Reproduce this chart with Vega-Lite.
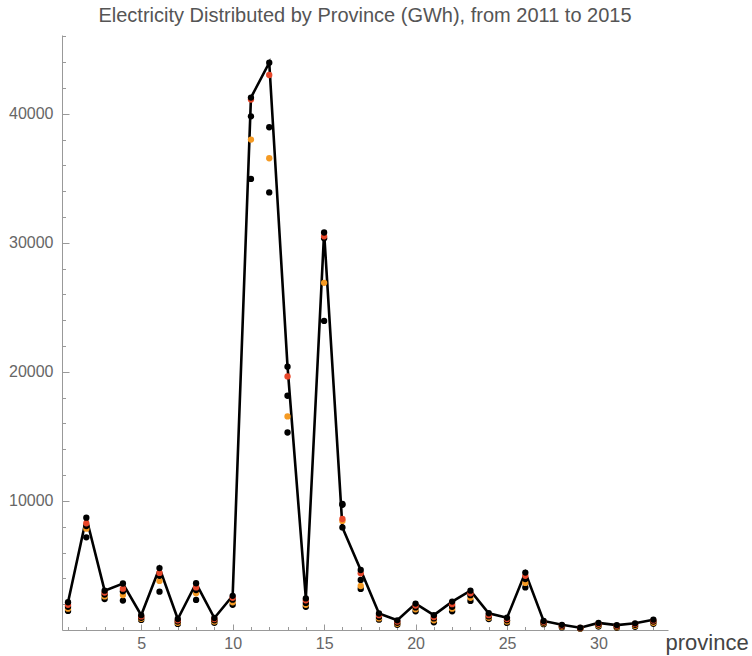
{
  "$schema": "https://vega.github.io/schema/vega-lite/v6.json",
  "width": 606,
  "height": 595,
  "autosize": "none",
  "padding": {"left": 62, "top": 35, "right": 84, "bottom": 26},
  "background": "white",
  "title": {
    "text": "Electricity Distributed by Province (GWh), from 2011 to 2015",
    "font": "Liberation Sans",
    "fontSize": 20,
    "fontWeight": "normal",
    "color": "#555555",
    "anchor": "middle",
    "offset": 9
  },
  "config": {
    "view": {"stroke": null},
    "axis": {
      "grid": false,
      "domainColor": "#999999",
      "domainWidth": 1,
      "tickColor": "#999999",
      "tickWidth": 1,
      "labelFont": "Liberation Sans",
      "labelColor": "#666666",
      "labelFontSize": 16
    }
  },
  "data": {
    "values": [
      {"province": 1, "year": 2011, "gwh": 1480}, {"province": 1, "year": 2012, "gwh": 1650}, {"province": 1, "year": 2013, "gwh": 1800}, {"province": 1, "year": 2014, "gwh": 1950}, {"province": 1, "year": 2015, "gwh": 2150},
      {"province": 2, "year": 2011, "gwh": 7180}, {"province": 2, "year": 2012, "gwh": 7850}, {"province": 2, "year": 2013, "gwh": 8050}, {"province": 2, "year": 2014, "gwh": 8270}, {"province": 2, "year": 2015, "gwh": 8700},
      {"province": 3, "year": 2011, "gwh": 2400}, {"province": 3, "year": 2012, "gwh": 2600}, {"province": 3, "year": 2013, "gwh": 2750}, {"province": 3, "year": 2014, "gwh": 2900}, {"province": 3, "year": 2015, "gwh": 3050},
      {"province": 4, "year": 2011, "gwh": 2280}, {"province": 4, "year": 2012, "gwh": 2710}, {"province": 4, "year": 2013, "gwh": 3000}, {"province": 4, "year": 2014, "gwh": 3200}, {"province": 4, "year": 2015, "gwh": 3600},
      {"province": 5, "year": 2011, "gwh": 780}, {"province": 5, "year": 2012, "gwh": 870}, {"province": 5, "year": 2013, "gwh": 950}, {"province": 5, "year": 2014, "gwh": 1050}, {"province": 5, "year": 2015, "gwh": 1150},
      {"province": 6, "year": 2011, "gwh": 2970}, {"province": 6, "year": 2012, "gwh": 3800}, {"province": 6, "year": 2013, "gwh": 4200}, {"province": 6, "year": 2014, "gwh": 4420}, {"province": 6, "year": 2015, "gwh": 4800},
      {"province": 7, "year": 2011, "gwh": 470}, {"province": 7, "year": 2012, "gwh": 560}, {"province": 7, "year": 2013, "gwh": 650}, {"province": 7, "year": 2014, "gwh": 750}, {"province": 7, "year": 2015, "gwh": 850},
      {"province": 8, "year": 2011, "gwh": 2330}, {"province": 8, "year": 2012, "gwh": 2840}, {"province": 8, "year": 2013, "gwh": 3100}, {"province": 8, "year": 2014, "gwh": 3300}, {"province": 8, "year": 2015, "gwh": 3620},
      {"province": 9, "year": 2011, "gwh": 560}, {"province": 9, "year": 2012, "gwh": 650}, {"province": 9, "year": 2013, "gwh": 750}, {"province": 9, "year": 2014, "gwh": 850}, {"province": 9, "year": 2015, "gwh": 930},
      {"province": 10, "year": 2011, "gwh": 1950}, {"province": 10, "year": 2012, "gwh": 2150}, {"province": 10, "year": 2013, "gwh": 2350}, {"province": 10, "year": 2014, "gwh": 2500}, {"province": 10, "year": 2015, "gwh": 2650},
      {"province": 11, "year": 2011, "gwh": 34950}, {"province": 11, "year": 2012, "gwh": 38000}, {"province": 11, "year": 2013, "gwh": 39800}, {"province": 11, "year": 2014, "gwh": 41100}, {"province": 11, "year": 2015, "gwh": 41250},
      {"province": 12, "year": 2011, "gwh": 33900}, {"province": 12, "year": 2012, "gwh": 36550}, {"province": 12, "year": 2013, "gwh": 38950}, {"province": 12, "year": 2014, "gwh": 43000}, {"province": 12, "year": 2015, "gwh": 43950},
      {"province": 13, "year": 2011, "gwh": 15300}, {"province": 13, "year": 2012, "gwh": 16550}, {"province": 13, "year": 2013, "gwh": 18150}, {"province": 13, "year": 2014, "gwh": 19650}, {"province": 13, "year": 2015, "gwh": 20400},
      {"province": 14, "year": 2011, "gwh": 1800}, {"province": 14, "year": 2012, "gwh": 1950}, {"province": 14, "year": 2013, "gwh": 2100}, {"province": 14, "year": 2014, "gwh": 2300}, {"province": 14, "year": 2015, "gwh": 2450},
      {"province": 15, "year": 2011, "gwh": 23950}, {"province": 15, "year": 2012, "gwh": 26900}, {"province": 15, "year": 2013, "gwh": 30350}, {"province": 15, "year": 2014, "gwh": 30500}, {"province": 15, "year": 2015, "gwh": 30800},
      {"province": 16, "year": 2011, "gwh": 9700}, {"province": 16, "year": 2012, "gwh": 8450}, {"province": 16, "year": 2013, "gwh": 9760}, {"province": 16, "year": 2014, "gwh": 8600}, {"province": 16, "year": 2015, "gwh": 7950},
      {"province": 17, "year": 2011, "gwh": 3180}, {"province": 17, "year": 2012, "gwh": 3410}, {"province": 17, "year": 2013, "gwh": 3880}, {"province": 17, "year": 2014, "gwh": 4390}, {"province": 17, "year": 2015, "gwh": 4650},
      {"province": 18, "year": 2011, "gwh": 800}, {"province": 18, "year": 2012, "gwh": 900}, {"province": 18, "year": 2013, "gwh": 1000}, {"province": 18, "year": 2014, "gwh": 1150}, {"province": 18, "year": 2015, "gwh": 1280},
      {"province": 19, "year": 2011, "gwh": 400}, {"province": 19, "year": 2012, "gwh": 480}, {"province": 19, "year": 2013, "gwh": 560}, {"province": 19, "year": 2014, "gwh": 650}, {"province": 19, "year": 2015, "gwh": 750},
      {"province": 20, "year": 2011, "gwh": 1450}, {"province": 20, "year": 2012, "gwh": 1600}, {"province": 20, "year": 2013, "gwh": 1750}, {"province": 20, "year": 2014, "gwh": 1900}, {"province": 20, "year": 2015, "gwh": 2050},
      {"province": 21, "year": 2011, "gwh": 600}, {"province": 21, "year": 2012, "gwh": 750}, {"province": 21, "year": 2013, "gwh": 900}, {"province": 21, "year": 2014, "gwh": 1000}, {"province": 21, "year": 2015, "gwh": 1150},
      {"province": 22, "year": 2011, "gwh": 1450}, {"province": 22, "year": 2012, "gwh": 1650}, {"province": 22, "year": 2013, "gwh": 1800}, {"province": 22, "year": 2014, "gwh": 2000}, {"province": 22, "year": 2015, "gwh": 2200},
      {"province": 23, "year": 2011, "gwh": 2250}, {"province": 23, "year": 2012, "gwh": 2500}, {"province": 23, "year": 2013, "gwh": 2700}, {"province": 23, "year": 2014, "gwh": 2850}, {"province": 23, "year": 2015, "gwh": 3050},
      {"province": 24, "year": 2011, "gwh": 850}, {"province": 24, "year": 2012, "gwh": 950}, {"province": 24, "year": 2013, "gwh": 1050}, {"province": 24, "year": 2014, "gwh": 1150}, {"province": 24, "year": 2015, "gwh": 1300},
      {"province": 25, "year": 2011, "gwh": 550}, {"province": 25, "year": 2012, "gwh": 650}, {"province": 25, "year": 2013, "gwh": 750}, {"province": 25, "year": 2014, "gwh": 850}, {"province": 25, "year": 2015, "gwh": 950},
      {"province": 26, "year": 2011, "gwh": 3300}, {"province": 26, "year": 2012, "gwh": 3650}, {"province": 26, "year": 2013, "gwh": 3950}, {"province": 26, "year": 2014, "gwh": 4200}, {"province": 26, "year": 2015, "gwh": 4450},
      {"province": 27, "year": 2011, "gwh": 450}, {"province": 27, "year": 2012, "gwh": 520}, {"province": 27, "year": 2013, "gwh": 580}, {"province": 27, "year": 2014, "gwh": 640}, {"province": 27, "year": 2015, "gwh": 700},
      {"province": 28, "year": 2011, "gwh": 200}, {"province": 28, "year": 2012, "gwh": 250}, {"province": 28, "year": 2013, "gwh": 300}, {"province": 28, "year": 2014, "gwh": 350}, {"province": 28, "year": 2015, "gwh": 400},
      {"province": 29, "year": 2011, "gwh": 100}, {"province": 29, "year": 2012, "gwh": 120}, {"province": 29, "year": 2013, "gwh": 140}, {"province": 29, "year": 2014, "gwh": 160}, {"province": 29, "year": 2015, "gwh": 180},
      {"province": 30, "year": 2011, "gwh": 280}, {"province": 30, "year": 2012, "gwh": 350}, {"province": 30, "year": 2013, "gwh": 420}, {"province": 30, "year": 2014, "gwh": 480}, {"province": 30, "year": 2015, "gwh": 550},
      {"province": 31, "year": 2011, "gwh": 170}, {"province": 31, "year": 2012, "gwh": 220}, {"province": 31, "year": 2013, "gwh": 280}, {"province": 31, "year": 2014, "gwh": 330}, {"province": 31, "year": 2015, "gwh": 380},
      {"province": 32, "year": 2011, "gwh": 250}, {"province": 32, "year": 2012, "gwh": 330}, {"province": 32, "year": 2013, "gwh": 400}, {"province": 32, "year": 2014, "gwh": 470}, {"province": 32, "year": 2015, "gwh": 520},
      {"province": 33, "year": 2011, "gwh": 480}, {"province": 33, "year": 2012, "gwh": 560}, {"province": 33, "year": 2013, "gwh": 650}, {"province": 33, "year": 2014, "gwh": 730}, {"province": 33, "year": 2015, "gwh": 800}
    ]
  },
  "layer": [
    {
      "transform": [{"filter": "datum.year === 2015"}],
      "mark": {"type": "line", "color": "black", "strokeWidth": 2.6},
      "encoding": {
        "x": {
          "field": "province",
          "type": "quantitative",
          "scale": {"domain": [0.67, 33.8], "nice": false, "zero": false},
          "axis": {
            "orient": "bottom",
            "values": [5, 10, 15, 20, 25, 30],
            "tickSize": -6,
            "labelPadding": 11,
            "title": "province",
            "titleFont": "Liberation Sans",
            "titleFontSize": 22,
            "titleFontWeight": "normal",
            "titleColor": "#444444",
            "titleAlign": "left",
            "titleBaseline": "alphabetic",
            "titleAnchor": "start",
            "titleX": 603,
            "titleY": 19
          }
        },
        "y": {
          "field": "gwh",
          "type": "quantitative",
          "scale": {"domain": [0, 46100], "nice": false},
          "axis": {
            "orient": "left",
            "values": [10000, 20000, 30000, 40000],
            "format": "d",
            "tickSize": -7,
            "labelPadding": 16,
            "title": null
          }
        }
      }
    },
    {
      "mark": {"type": "point", "filled": true, "size": 40, "opacity": 1, "strokeWidth": 0},
      "encoding": {
        "x": {
          "field": "province",
          "type": "quantitative",
          "axis": {
            "orient": "bottom",
            "values": [1, 2, 3, 4, 6, 7, 8, 9, 11, 12, 13, 14, 16, 17, 18, 19, 21, 22, 23, 24, 26, 27, 28, 29, 31, 32, 33],
            "tickSize": -3.5,
            "labels": false,
            "domain": false,
            "title": null
          }
        },
        "y": {
          "field": "gwh",
          "type": "quantitative",
          "axis": {
            "orient": "left",
            "values": [2000, 4000, 6000, 8000, 12000, 14000, 16000, 18000, 22000, 24000, 26000, 28000, 32000, 34000, 36000, 38000, 42000, 44000, 46000],
            "tickSize": -3.5,
            "labels": false,
            "domain": false,
            "title": null
          }
        },
        "color": {
          "field": "year",
          "type": "nominal",
          "scale": {"domain": [2011, 2012, 2013, 2014, 2015], "range": ["#000000", "#f59a23", "#000000", "#e8472a", "#000000"]},
          "legend": null
        }
      }
    }
  ],
  "resolve": {"axis": {"x": "independent", "y": "independent"}}
}
